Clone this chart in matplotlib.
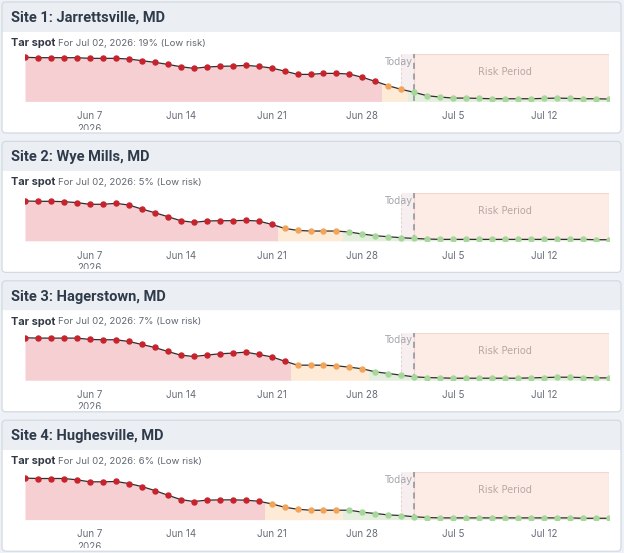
import matplotlib
matplotlib.use("Agg")
import matplotlib.pyplot as plt
import matplotlib.dates as mdates
from matplotlib.patches import FancyBboxPatch, Rectangle
import numpy as np
import pandas as pd

# ---- data ----
dates = pd.date_range("2026-06-02", "2026-07-17", freq="D")
today = pd.Timestamp("2026-07-02")
risk_end = pd.Timestamp("2026-07-17")

sites = ["Site 1: Jarrettsville, MD", "Site 2: Wye Mills, MD",
         "Site 3: Hagerstown, MD", "Site 4: Hughesville, MD"]
today_pct = [19, 5, 7, 6]

site1 = [93, 92.2, 92.2, 92.2, 92.2, 90.8, 90.8, 90.8, 89.4, 85.9,
         82.4, 78.1, 73.2, 69.7, 72.5, 73.9, 74.6, 76, 73.9, 70.4,
         64, 57, 57, 59.1, 59.1, 57.7, 50.7, 42.2, 33, 25.3,
         19, 11.9, 9.1, 7, 7, 6.3, 5.6, 5.6, 5.6, 5.6,
         6.3, 7, 6.3, 5.6, 5.6, 4.9]
site2 = [84, 83.3, 83.3, 82.6, 80.5, 77, 77, 79, 75.5, 67,
         59.3, 50.9, 42.4, 38.9, 41.7, 42.4, 42.4, 43.1, 41.7, 34.7,
         26.2, 22, 20.6, 20.6, 20.6, 18.5, 14.2, 10.7, 8.6, 6.5,
         5, 3.7, 3, 3, 3, 3, 3, 3, 3, 3,
         3, 3, 3, 3, 2.3, 2.3]
site3 = [89.5, 88.8, 88.8, 88.8, 88.8, 86, 85.3, 85.3, 81.7, 75.4,
         69, 60.6, 52.9, 50, 52.9, 55.7, 57.1, 59.2, 54.3, 49.3,
         40.2, 31.7, 31.7, 31.7, 30.3, 27.5, 24, 17.6, 14.1, 10.6,
         7, 5.6, 4.9, 4.2, 4.2, 4.2, 4.2, 4.2, 4.2, 4.9,
         5.6, 6.3, 6.3, 5.6, 4.9, 4.9]
site4 = [87.5, 86.7, 86.7, 86.7, 83.9, 79.7, 79.7, 80.4, 76.1, 69.8,
         61.3, 51.5, 42.3, 38.1, 41, 41.6, 41.6, 41, 38.8, 33.2,
         26.1, 21.9, 19.8, 19.8, 19.8, 19.8, 15.6, 12.8, 9.9, 8.5,
         6, 4.3, 3.6, 3.6, 3.6, 3.6, 3.6, 3.6, 3.6, 3.6,
         3.6, 3.6, 3.6, 2.8, 2.8, 2.8]
values = [site1, site2, site3, site4]

orange_from = ["2026-06-30", "2026-06-22", "2026-06-23", "2026-06-21"]
green_from = ["2026-07-02", "2026-06-27", "2026-06-29", "2026-06-27"]

tick_dates = pd.to_datetime(["2026-06-07", "2026-06-14", "2026-06-21",
                             "2026-06-28", "2026-07-05", "2026-07-12"])
tick_labels = ["Jun 7\n2026", "Jun 14", "Jun 21", "Jun 28", "Jul 5", "Jul 12"]

# ---- style ----
marker_col = {"red": "#c8232c", "orange": "#f2a55a", "green": "#a7d79b"}
fill_col = {"red": "#f6cfd2", "orange": "#fdebd8", "green": "#e3efdc"}

W, H = 624, 553
fig = plt.figure(figsize=(W / 100, H / 100), dpi=100, facecolor="#eef1f5")
bg = fig.add_axes([0, 0, 1, 1])
bg.set_xlim(0, W)
bg.set_ylim(H, 0)
bg.axis("off")

x = mdates.date2num(dates)
xt = mdates.date2num(today)
xe = mdates.date2num(risk_end)

for i, name in enumerate(sites):
    ptop = 54 + 139.4 * i
    ctop = ptop - 52
    # card
    bg.add_patch(FancyBboxPatch((2, ctop), 619, 131, boxstyle="round,pad=0,rounding_size=4",
                                facecolor="white", edgecolor="none", zorder=1))
    bg.add_patch(FancyBboxPatch((2, ctop), 619, 29.5, boxstyle="round,pad=0,rounding_size=4",
                                facecolor="#ebeff4", edgecolor="none", zorder=2))
    bg.add_patch(Rectangle((2, ctop + 20), 619, 9.5, facecolor="#ebeff4", edgecolor="none", zorder=2))
    bg.add_patch(FancyBboxPatch((2, ctop), 619, 131, boxstyle="round,pad=0,rounding_size=4",
                                facecolor="none", edgecolor="#d3dae3", lw=0.9, zorder=3))
    bg.text(11, ctop + 16, name, fontsize=10.5, fontweight="bold", color="#2f3b4a",
            va="center", family="Roboto", zorder=4)
    bg.text(11, ctop + 41, "Tar spot", fontsize=7.9, fontweight="bold", color="#333a44",
            va="center", family="Inter", zorder=4)
    bg.text(58, ctop + 41, f"For Jul 02, 2026: {today_pct[i]}% (Low risk)", fontsize=6.9,
            color="#5f6670", va="center", family="Inter", zorder=4)
    clip = Rectangle((2, ctop), 619, 128, transform=bg.transData)

    ax = fig.add_axes([25 / W, 1 - (ptop + 47.4) / H, 584 / W, 47.4 / H])
    ax.set_facecolor("none")
    ax.set_xlim(x[0], x[-1])
    ax.set_ylim(0, 100)
    for s in ax.spines.values():
        s.set_visible(False)
    ax.set_yticks([])
    ax.set_xticks(mdates.date2num(tick_dates))
    ax.set_xticklabels(tick_labels, fontsize=7, color="#666e78", family="Inter", linespacing=1.3)
    ax.tick_params(axis="x", length=0, pad=7)
    for lab in ax.get_xticklabels():
        lab.set_clip_on(True)
        lab.set_clip_path(clip)

    # today band and risk period
    ax.axvspan(xt - 1, xt, facecolor="#f7eeef", edgecolor="none", zorder=1)
    ax.axvline(xt - 1, color="#e2d3d6", ls=(0, (2, 2)), lw=0.8, zorder=1)
    ax.axvspan(xt, xe, facecolor="#fdebe5", edgecolor="#f3d7ce", lw=0.8, zorder=1)
    ax.text(mdates.date2num(pd.Timestamp("2026-07-09")), 62, "Risk Period", ha="center",
            va="center", fontsize=7, color="#b8a7a5", zorder=2)
    ax.text(xt - 0.2, 84, "Today", ha="right", va="center", fontsize=7, color="#a2a6ac", zorder=2)

    v = np.array(values[i])
    levels = np.where(dates < pd.Timestamp(orange_from[i]), "red",
                      np.where(dates < pd.Timestamp(green_from[i]), "orange", "green"))
    for lvl in ["red", "orange", "green"]:
        idx = np.where(levels == lvl)[0]
        if len(idx) == 0:
            continue
        x0 = x[idx[0]] - 0.5
        x1 = x[idx[-1]] + 0.5
        poly = ax.fill_between(x, 0, v, color=fill_col[lvl], lw=0, zorder=2)
        poly.set_clip_path(Rectangle((x0, 0), x1 - x0, 100, transform=ax.transData))
    ax.axvline(xt, color="#8c9096", ls=(0, (4, 3)), lw=1.1, zorder=3)
    ax.plot(x, v, color="#2e2e2e", lw=0.9, zorder=4)
    for lvl in ["red", "orange", "green"]:
        m = levels == lvl
        ax.plot(x[m], v[m], "o", ms=3.6, color=marker_col[lvl], mec=marker_col[lvl], zorder=5)

fig.savefig("out.png", dpi=100, facecolor=fig.get_facecolor())
